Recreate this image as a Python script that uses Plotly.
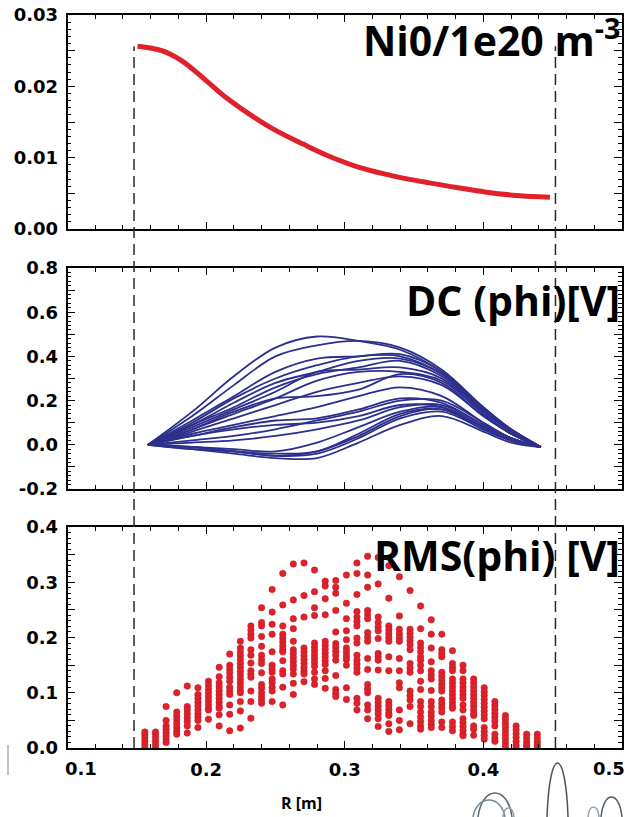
import plotly.graph_objects as go

# ---------------- data ----------------
R_ni = [0.1505, 0.168, 0.1825, 0.200, 0.2146, 0.232, 0.2495, 0.270, 0.290,
        0.3135, 0.337, 0.360, 0.383, 0.401, 0.424, 0.448]
ni0 = [0.02562, 0.0250, 0.02357, 0.0208, 0.01840, 0.01600, 0.0139, 0.0119,
       0.0101, 0.00845, 0.00735, 0.00650, 0.00575, 0.00520, 0.00470, 0.00445]

dc_R = [0.158, 0.19, 0.22, 0.25, 0.28, 0.31, 0.34, 0.37, 0.40, 0.42, 0.4415]
dc_lines = [
    [0.00, 0.15, 0.31, 0.44, 0.49, 0.47, 0.43, 0.33, 0.17, 0.07, -0.01],
    [0.00, 0.13, 0.27, 0.40, 0.45, 0.47, 0.44, 0.34, 0.17, 0.07, -0.01],
    [0.00, 0.11, 0.22, 0.33, 0.39, 0.40, 0.41, 0.33, 0.16, 0.07, -0.01],
    [0.00, 0.10, 0.21, 0.30, 0.36, 0.40, 0.40, 0.32, 0.16, 0.06, -0.01],
    [0.00, 0.09, 0.19, 0.28, 0.33, 0.38, 0.39, 0.32, 0.15, 0.06, -0.01],
    [0.00, 0.09, 0.17, 0.26, 0.32, 0.35, 0.38, 0.31, 0.15, 0.06, -0.01],
    [0.00, 0.08, 0.16, 0.24, 0.33, 0.34, 0.35, 0.30, 0.14, 0.05, -0.01],
    [0.00, 0.07, 0.14, 0.21, 0.29, 0.33, 0.33, 0.29, 0.14, 0.05, -0.01],
    [0.00, 0.07, 0.15, 0.21, 0.22, 0.25, 0.32, 0.28, 0.13, 0.05, -0.01],
    [0.00, 0.06, 0.12, 0.18, 0.24, 0.28, 0.31, 0.27, 0.13, 0.05, -0.01],
    [0.00, 0.05, 0.09, 0.13, 0.17, 0.22, 0.26, 0.22, 0.10, 0.03, -0.01],
    [0.00, 0.04, 0.08, 0.11, 0.12, 0.16, 0.21, 0.19, 0.09, 0.03, -0.01],
    [0.00, 0.04, 0.07, 0.09, 0.10, 0.13, 0.18, 0.17, 0.08, 0.02, -0.01],
    [0.00, 0.01, 0.02, 0.04, 0.07, 0.11, 0.17, 0.18, 0.09, 0.03, -0.01],
    [0.00, -0.01, -0.02, -0.03, 0.01, 0.08, 0.15, 0.17, 0.08, 0.02, -0.01],
    [0.00, -0.01, -0.03, -0.04, -0.03, 0.05, 0.14, 0.16, 0.08, 0.02, -0.01],
    [0.00, -0.01, -0.03, -0.05, -0.04, 0.03, 0.12, 0.15, 0.07, 0.02, -0.01],
    [0.00, -0.02, -0.04, -0.06, -0.06, 0.01, 0.09, 0.13, 0.06, 0.01, -0.01],
    [0.00, -0.02, -0.03, -0.05, -0.03, 0.04, 0.13, 0.16, 0.07, 0.02, -0.01],
    [0.00, 0.02, 0.04, 0.07, 0.11, 0.15, 0.20, 0.20, 0.10, 0.03, -0.01],
]

rms_R = [0.1558, 0.1635, 0.1711, 0.1788, 0.1864, 0.1941, 0.2017, 0.2094,
         0.2170, 0.2247, 0.2323, 0.2400, 0.2476, 0.2553, 0.2629, 0.2706,
         0.2782, 0.2859, 0.2935, 0.3012, 0.3088, 0.3165, 0.3241, 0.3318,
         0.3394, 0.3471, 0.3547, 0.3624, 0.3700, 0.3777, 0.3853, 0.3930,
         0.4006, 0.4083, 0.4159, 0.4236, 0.4312, 0.4389]
rms_values = [
    [0.0, 0.006, 0.012, 0.018, 0.024, 0.029],
    [0.0, 0.006, 0.012, 0.018, 0.024, 0.029],
    [0.075, 0.05, 0.04, 0.034, 0.028, 0.022, 0.016, 0.01],
    [0.1, 0.065, 0.058, 0.051, 0.044, 0.037, 0.030, 0.025],
    [0.112, 0.075, 0.069, 0.062, 0.055, 0.048, 0.04, 0.027],
    [0.109, 0.097, 0.09, 0.083, 0.076, 0.069, 0.062, 0.056, 0.05, 0.037],
    [0.121, 0.114, 0.107, 0.1, 0.093, 0.086, 0.079, 0.072, 0.069, 0.052],
    [0.146, 0.129, 0.118, 0.111, 0.104, 0.097, 0.09, 0.083, 0.076, 0.072, 0.06, 0.04],
    [0.17, 0.15, 0.143, 0.136, 0.128, 0.121, 0.11, 0.103, 0.097, 0.078, 0.061, 0.031],
    [0.193, 0.181, 0.174, 0.167, 0.16, 0.153, 0.146, 0.139, 0.132, 0.125, 0.118,
     0.111, 0.104, 0.1, 0.084, 0.067, 0.036],
    [0.221, 0.214, 0.206, 0.199, 0.178, 0.168, 0.154, 0.14, 0.134, 0.128, 0.103, 0.084, 0.054],
    [0.254, 0.227, 0.221, 0.202, 0.184, 0.168, 0.16, 0.153, 0.136, 0.115, 0.108,
     0.1, 0.093, 0.087, 0.081],
    [0.287, 0.246, 0.224, 0.206, 0.174, 0.15, 0.143, 0.137, 0.125, 0.118, 0.11, 0.103, 0.084],
    [0.316, 0.259, 0.221, 0.206, 0.199, 0.192, 0.185, 0.178, 0.174, 0.158, 0.14, 0.134, 0.11, 0.078],
    [0.333, 0.268, 0.234, 0.216, 0.193, 0.178, 0.171, 0.164, 0.157, 0.15, 0.143, 0.134, 0.117, 0.097],
    [0.335, 0.276, 0.237, 0.181, 0.174, 0.167, 0.16, 0.153, 0.146, 0.139, 0.134, 0.12],
    [0.322, 0.283, 0.254, 0.24, 0.19, 0.183, 0.176, 0.169, 0.162, 0.155, 0.148, 0.137, 0.125, 0.115],
    [0.302, 0.293, 0.27, 0.241, 0.193, 0.186, 0.179, 0.172, 0.165, 0.158, 0.151, 0.14, 0.126, 0.108],
    [0.303, 0.291, 0.28, 0.249, 0.21, 0.189, 0.182, 0.175, 0.168, 0.159, 0.131, 0.106, 0.099, 0.093],
    [0.313, 0.262, 0.234, 0.212, 0.196, 0.181, 0.174, 0.167, 0.16, 0.15, 0.109, 0.088],
    [0.335, 0.316, 0.278, 0.247, 0.237, 0.229, 0.221, 0.199, 0.19, 0.168, 0.159,
     0.152, 0.145, 0.137, 0.09, 0.081, 0.069],
    [0.347, 0.313, 0.291, 0.249, 0.241, 0.234, 0.209, 0.201, 0.193, 0.162, 0.142,
     0.115, 0.107, 0.1, 0.078, 0.069, 0.053],
    [0.345, 0.297, 0.237, 0.227, 0.219, 0.212, 0.198, 0.171, 0.165, 0.159, 0.141,
     0.09, 0.083, 0.076, 0.069, 0.062, 0.053, 0.039],
    [0.33, 0.271, 0.221, 0.214, 0.207, 0.2, 0.193, 0.165, 0.14, 0.084, 0.077,
     0.07, 0.063, 0.059, 0.044, 0.03],
    [0.31, 0.239, 0.215, 0.207, 0.2, 0.193, 0.162, 0.14, 0.118, 0.109, 0.069, 0.05, 0.033],
    [0.285, 0.215, 0.208, 0.201, 0.194, 0.187, 0.178, 0.153, 0.145, 0.137, 0.103,
     0.095, 0.087, 0.075, 0.044],
    [0.257, 0.216, 0.19, 0.182, 0.174, 0.165, 0.159, 0.15, 0.14, 0.121, 0.106,
     0.084, 0.075, 0.065, 0.056, 0.048, 0.04, 0.034],
    [0.232, 0.206, 0.181, 0.156, 0.14, 0.132, 0.125, 0.104, 0.084, 0.075, 0.065,
     0.058, 0.05, 0.043, 0.037],
    [0.206, 0.178, 0.171, 0.165, 0.137, 0.13, 0.123, 0.116, 0.109, 0.103, 0.087,
     0.08, 0.073, 0.065, 0.047, 0.037],
    [0.176, 0.153, 0.146, 0.14, 0.125, 0.118, 0.111, 0.104, 0.097, 0.09, 0.083,
     0.076, 0.072, 0.047, 0.039, 0.031],
    [0.15, 0.14, 0.125, 0.118, 0.111, 0.104, 0.097, 0.09, 0.078, 0.069, 0.053,
     0.046, 0.039, 0.032, 0.025, 0.022],
    [0.125, 0.118, 0.111, 0.104, 0.097, 0.09, 0.083, 0.076, 0.069, 0.062, 0.059,
     0.04, 0.034, 0.023],
    [0.109, 0.102, 0.095, 0.088, 0.081, 0.074, 0.067, 0.06, 0.053, 0.037, 0.03, 0.023, 0.016],
    [0.084, 0.077, 0.07, 0.063, 0.056, 0.049, 0.04, 0.025, 0.018, 0.012],
    [0.059, 0.052, 0.045, 0.038, 0.031, 0.024, 0.017, 0.01, 0.003],
    [0.04, 0.033, 0.026, 0.019, 0.012, 0.005, 0.0],
    [0.025, 0.018, 0.011, 0.005, 0.0],
    [0.025, 0.018, 0.011, 0.005, 0.0],
]

x_tickvals = [0.1, 0.2, 0.3, 0.4, 0.5]
x_ticktext = ["", "0.2", "0.3", "0.4", ""]
x_first_label = "0.1"
x_last_label = "0.5"
ni_tickvals = [0.0, 0.005, 0.01, 0.015, 0.02, 0.025, 0.03]
ni_ticktext = ["0.00", "", "0.01", "", "0.02", "", "0.03"]
dc_tickvals = [-0.2, -0.1, 0.0, 0.1, 0.2, 0.3, 0.4, 0.5, 0.6, 0.7, 0.8]
dc_ticktext = ["-0.2", "", "0.0", "", "0.2", "", "0.4", "", "0.6", "", "0.8"]
rms_tickvals = [0.0, 0.05, 0.1, 0.15, 0.2, 0.25, 0.3, 0.35, 0.4]
rms_ticktext = ["0.0", "", "0.1", "", "0.2", "", "0.3", "", "0.4"]
limit_R = [0.148, 0.452]

titles = ["Ni0/1e20 m<sup>-3</sup>", "DC (phi)[V]", "RMS(phi) [V]"]
xlabel = "R [m]"

# ---------------- layout geometry ----------------
W, H = 631, 817
def py(p):
    return 1 - p / H
def px(p):
    return p / W

xdom = [px(67.5), px(622)]
dom_top = [py(229), py(15)]
dom_mid = [py(489), py(268)]
dom_bot = [py(748), py(527)]
ni_range = [0.0, 0.03]
dc_range = [-0.2, 0.8]
rms_range = [0.0, 0.4]

RED = "rgb(224,32,42)"
BLUE = "rgb(44,48,140)"
tickfont = dict(family="DejaVu Sans", size=18, color="black", weight=700)

fig = go.Figure()

fig.add_trace(go.Scatter(x=R_ni, y=ni0, mode="lines", line=dict(color=RED, width=5, shape="spline"),
                         xaxis="x", yaxis="y", showlegend=False, hoverinfo="skip"))
for ln in dc_lines:
    fig.add_trace(go.Scatter(x=dc_R, y=ln, mode="lines",
                             line=dict(color=BLUE, width=1.8, shape="spline", smoothing=1.0),
                             xaxis="x2", yaxis="y2", showlegend=False, hoverinfo="skip"))
rx, ry = [], []
for r, vals in zip(rms_R, rms_values):
    for v in vals:
        rx.append(r)
        ry.append(v)
fig.add_trace(go.Scatter(x=rx, y=ry, mode="markers",
                         marker=dict(color=RED, size=6.5, symbol="circle",
                                     line=dict(color="rgb(185,30,40)", width=0.5)),
                         xaxis="x3", yaxis="y3", showlegend=False, hoverinfo="skip"))

def xax(anchor, labels):
    return dict(domain=xdom, anchor=anchor, range=[0.1, 0.5], tickmode="array",
                tickvals=x_tickvals, ticktext=x_ticktext, showticklabels=labels,
                ticks="inside", ticklen=7, tickwidth=1.2, tickcolor="black",
                minor=dict(dtick=0.02, tick0=0.1, ticks="inside", ticklen=4, tickwidth=1, tickcolor="black"),
                showline=True, linecolor="black", linewidth=1.6, mirror="ticks",
                showgrid=False, zeroline=False, tickfont=tickfont, ticklabelstandoff=5,
                automargin=False)

def yax(anchor, dom, rng, tv, tt, mdt):
    return dict(domain=dom, anchor=anchor, range=rng, tickmode="array", tickvals=tv, ticktext=tt,
                ticks="inside", ticklen=8, tickwidth=1.2, tickcolor="black",
                minor=dict(dtick=mdt, tick0=0, ticks="inside", ticklen=4, tickwidth=1, tickcolor="black"),
                showline=True, linecolor="black", linewidth=1.6, mirror="ticks",
                showgrid=False, zeroline=False, tickfont=tickfont, automargin=False,
                ticklabelstandoff=4)

fig.update_layout(
    template="none",
    width=W, height=H, margin=dict(l=0, r=0, t=0, b=0, pad=0, autoexpand=False),
    paper_bgcolor="white", plot_bgcolor="white", showlegend=False,
    xaxis=xax("y", False), xaxis2=xax("y2", False), xaxis3=xax("y3", True),
    yaxis=yax("x", dom_top, ni_range, ni_tickvals, ni_ticktext, 0.001),
    yaxis2=yax("x2", dom_mid, dc_range, dc_tickvals, dc_ticktext, 0.02),
    yaxis3=yax("x3", dom_bot, rms_range, rms_tickvals, rms_ticktext, 0.01),
)

# dashed limit lines spanning all panels
y_start = dom_top[0] + (ni0[0] - ni_range[0]) / (ni_range[1] - ni_range[0]) * (dom_top[1] - dom_top[0])
for r in limit_R:
    fig.add_shape(type="line", xref="x3", yref="paper", x0=r, x1=r, y0=dom_bot[0], y1=y_start,
                  line=dict(color="rgb(40,40,40)", width=1.5, dash="11px,6px"), layer="above")

# panel titles
title_font = dict(family="Open Sans", size=41, color="black", weight=700)
for t, yc in zip(titles, [py(38), py(300), py(555)]):
    fig.add_annotation(text=t, xref="paper", yref="paper", x=px(622), y=yc,
                       xanchor="right", yanchor="middle", showarrow=False, font=title_font)

# first / last x tick labels, kept inside the frame as in the reference
fig.add_annotation(text=x_first_label, xref="paper", yref="paper", x=px(81), y=py(768),
                   xanchor="center", yanchor="middle", showarrow=False, font=tickfont)
fig.add_annotation(text=x_last_label, xref="paper", yref="paper", x=px(609), y=py(768),
                   xanchor="center", yanchor="middle", showarrow=False, font=tickfont)

fig.add_annotation(text=xlabel, xref="paper", yref="paper", x=px(301), y=py(803),
                   xanchor="center", yanchor="middle", showarrow=False,
                   font=dict(family="Open Sans", size=16, color="black", weight=700))

# stray decorations at the page edges
fig.add_shape(type="line", xref="paper", yref="paper", x0=px(8), x1=px(8), y0=py(745), y1=py(775),
              line=dict(color="rgb(175,175,175)", width=1.5))
arcs = [(547, 568, 817, 763, "rgb(70,85,95)"), (478, 512, 817, 793, "rgb(90,105,115)"),
        (473, 505, 817, 800, "rgb(120,135,145)"), (503, 514, 817, 808, "rgb(150,160,168)"),
        (601, 622, 817, 797, "rgb(80,95,105)"), (588, 599, 817, 807, "rgb(150,160,168)")]
for xl, xr, yb, yp, col in arcs:
    Yb, Yp = py(yb), py(yp)
    Yc = Yb + 4.0 / 3.0 * (Yp - Yb)
    w = xr - xl
    path = "M {:.4f},{:.4f} C {:.4f},{:.4f} {:.4f},{:.4f} {:.4f},{:.4f}".format(
        px(xl), Yb, px(xl + 0.12 * w), Yc, px(xr - 0.12 * w), Yc, px(xr), Yb)
    fig.add_shape(type="path", xref="paper", yref="paper", path=path,
                  line=dict(color=col, width=1.5))

fig.write_html("out.html", config={"displayModeBar": False},
               post_script="document.body.style.margin='0px';document.body.style.overflow='hidden';")
